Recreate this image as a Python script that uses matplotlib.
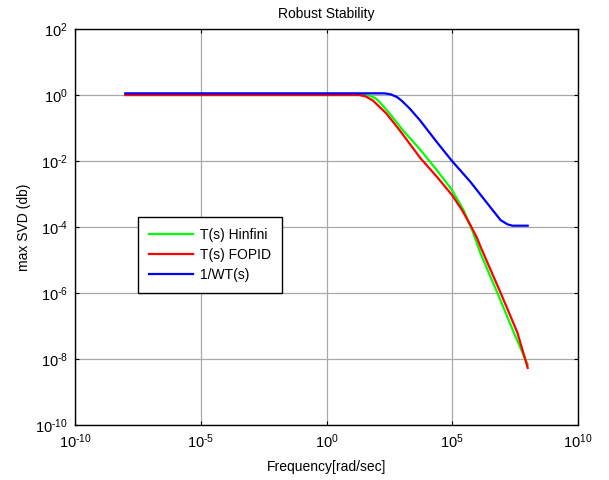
import numpy as np
import matplotlib
matplotlib.use("Agg")
import matplotlib.pyplot as plt

plt.rcParams['font.family'] = ['Liberation Sans', 'DejaVu Sans']
plt.rcParams['mathtext.fontset'] = 'custom'
plt.rcParams['mathtext.rm'] = 'Liberation Sans'
plt.rcParams['mathtext.it'] = 'Liberation Sans:italic'
plt.rcParams['mathtext.bf'] = 'Liberation Sans:bold'

# values, as decade exponents
hinf_wexp = [-8, 1.4, 1.72, 1.95, 2.12, 2.52, 3.05, 3.72, 4.39, 4.99, 5.45, 5.79, 6.12, 6.79, 7.45, 8.0]
hinf_mexp = [0, 0, -0.02, -0.1, -0.22, -0.57, -1.08, -1.65, -2.28, -2.88, -3.49, -4.09, -4.79, -5.99, -7.2, -8.17]

fopid_wexp = [-8, 1.3, 1.55, 1.85, 2.39, 2.92, 3.72, 4.39, 4.99, 5.39, 5.72, 5.99, 6.12, 6.92, 7.59, 8.0]
fopid_mexp = [0, 0, -0.04, -0.17, -0.57, -1.08, -1.9, -2.48, -3.03, -3.49, -3.94, -4.34, -4.59, -5.99, -7.2, -8.27]

wt_wexp = [-8, 2.3, 2.55, 2.8, 3.0, 3.32, 3.72, 4.39, 4.99, 5.72, 6.39, 6.92, 7.2, 7.39, 8.0]
wt_mexp = [0.05, 0.05, 0.02, -0.06, -0.18, -0.42, -0.77, -1.43, -2.0, -2.63, -3.28, -3.79, -3.92, -3.96, -3.96]

xtick_exp = [-10, -5, 0, 5, 10]
ytick_exp = [-10, -8, -6, -4, -2, 0, 2]


def dec_label(e):
    # hyphen instead of the long math minus, like the original
    if e < 0:
        return r'$10^{\text{-}%d}$' % (-e)
    return r'$10^{%d}$' % e


fig = plt.figure(figsize=(6.09, 4.80), dpi=100)
ax = fig.add_axes([75/609, 1-425/480, 503/609, 396/480])

ax.loglog(10.0**np.array(hinf_wexp), 10.0**np.array(hinf_mexp), color=(0, 1, 0), lw=1.6, label='T(s) Hinfini')
ax.loglog(10.0**np.array(fopid_wexp), 10.0**np.array(fopid_mexp), color=(1, 0, 0), lw=1.6, label='T(s) FOPID')
ax.loglog(10.0**np.array(wt_wexp), 10.0**np.array(wt_mexp), color=(0, 0, 1), lw=1.6, label='1/WT(s)')

ax.set_xlim(1e-10, 1e10)
ax.set_ylim(1e-10, 1e2)
ax.set_xticks([10.0**e for e in xtick_exp])
ax.set_xticklabels([dec_label(e) for e in xtick_exp])
ax.set_yticks([10.0**e for e in ytick_exp])
ax.set_yticklabels([dec_label(e) for e in ytick_exp])
ax.minorticks_off()
ax.tick_params(direction='in', top=True, right=True, length=3, width=0.8, labelsize=10.5, pad=5)
ax.grid(True, color='#a8a8a8', lw=0.9)
for s in ax.spines.values():
    s.set_linewidth(1.0)

ax.set_title('Robust Stability', fontsize=10, pad=8)
ax.set_xlabel('Frequency[rad/sec]', fontsize=10, labelpad=7)
ax.set_ylabel('max SVD (db)', fontsize=10, labelpad=3)

leg = ax.legend(loc='upper left', bbox_to_anchor=(0.126, 0.5245), borderaxespad=0,
                fancybox=False, framealpha=1, edgecolor='black', fontsize=10,
                handlelength=3.2, handletextpad=0.5, labelspacing=0.45, borderpad=0.75)
leg.get_frame().set_linewidth(1.0)

fig.savefig('out.png', dpi=100)
